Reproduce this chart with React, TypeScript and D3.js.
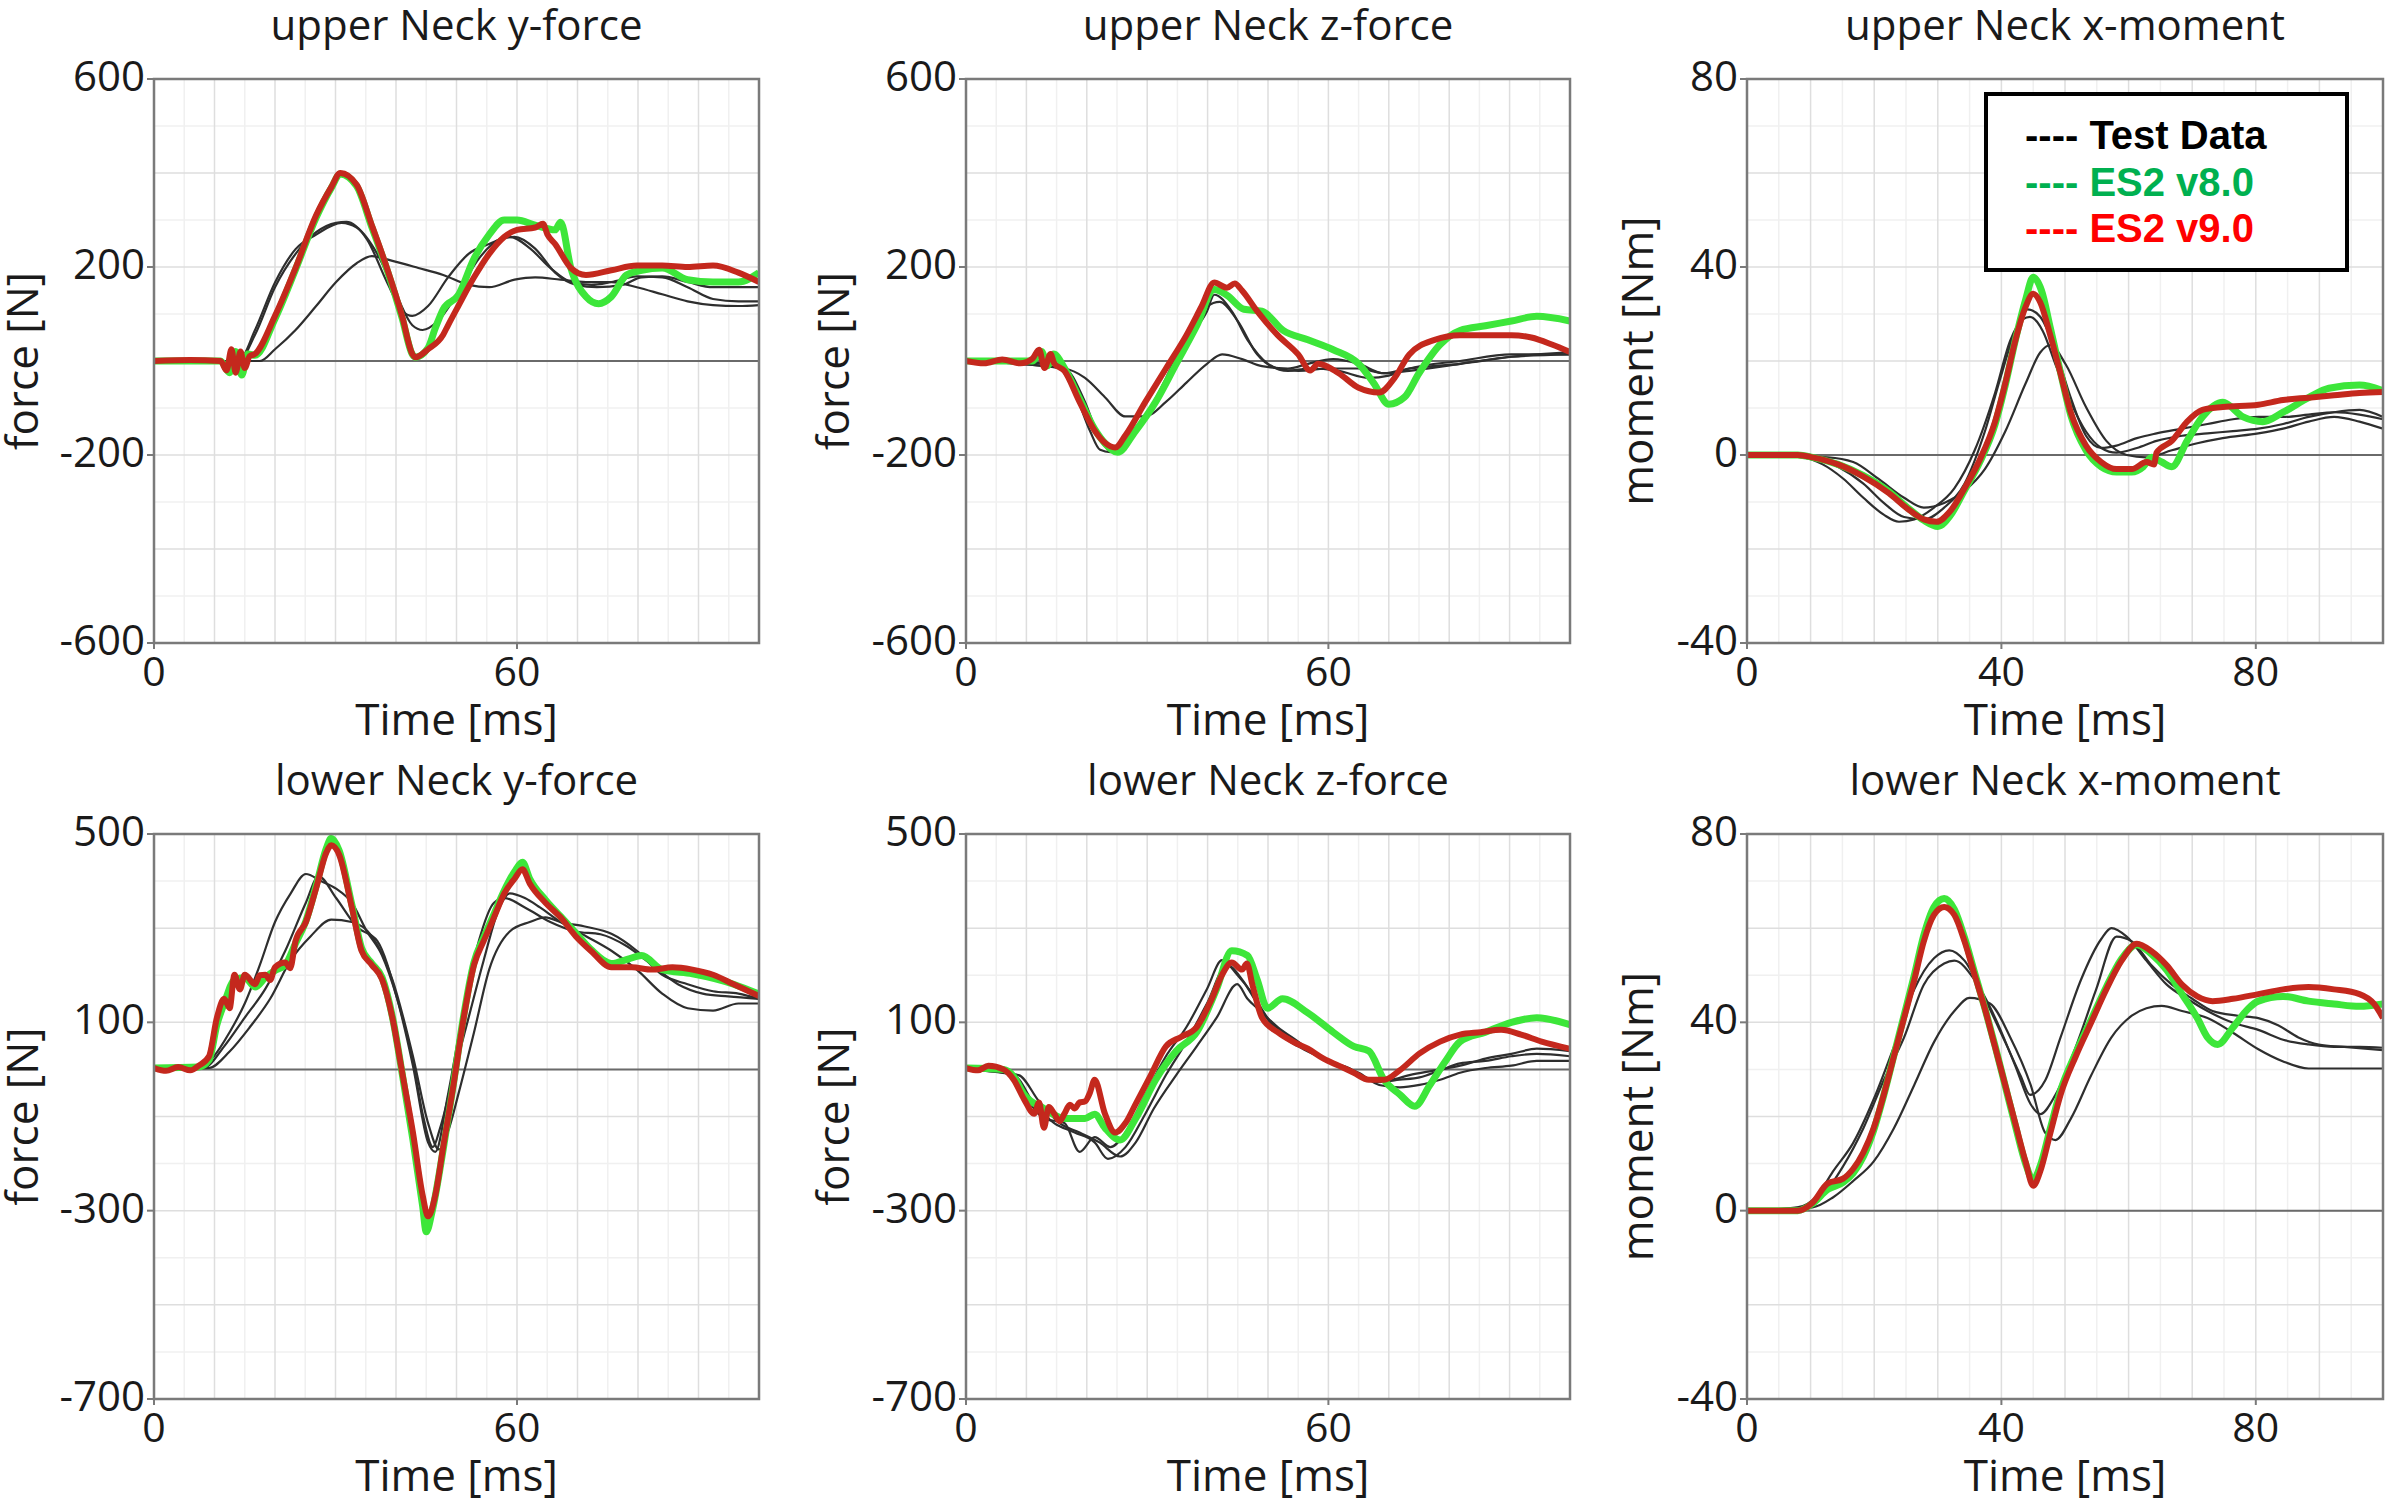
import React from "react";
import * as d3 from "d3";

type P = [number, number];

// ---------- tick labels ----------
const TIME_TICKS_FORCE = [0, 60];
const TIME_TICKS_MOMENT = [0, 40, 80];
const UPPER_FORCE_TICKS = [-600, -200, 200, 600];
const LOWER_FORCE_TICKS = [-700, -300, 100, 500];
const MOMENT_TICKS = [-40, 0, 40, 80];

const TITLES = [
  "upper Neck y-force", "upper Neck z-force", "upper Neck x-moment",
  "lower Neck y-force", "lower Neck z-force", "lower Neck x-moment",
];
const Y_LABELS = ["force [N]", "force [N]", "moment [Nm]", "force [N]", "force [N]", "moment [Nm]"];
const LEGEND_LABELS = ["Test Data", "ES2 v8.0", "ES2 v9.0"];

// ---------- upper Neck y-force ----------
const uyTest1: P[] = [[0,0],[14,0],[16.7,56],[20,157],[23.4,228],[26.8,274],[30.1,294],[31.8,296],[35.2,259],[38.5,168],[41,107],[42.7,96],[45.3,117],[48.6,178],[52,228],[55.4,249],[58.8,264],[62.2,239],[65.5,198],[68.9,168],[72.3,162],[75.6,168],[79.8,180],[84,178],[88.2,157],[92.4,132],[96.6,127],[100,127]];
const uyTest2: P[] = [[0,0],[14,0],[16.7,66],[20,167],[23.4,238],[26.8,269],[31,294],[33.5,284],[36.9,228],[40.2,137],[42.7,76],[44.4,66],[47,86],[50.3,147],[53.7,218],[57.2,259],[59.6,264],[63,239],[66.3,188],[69.8,162],[73.2,157],[77.4,162],[80.6,178],[84,180],[88.2,168],[92.4,157],[96.6,157],[100,157]];
const uyTest3: P[] = [[0,0],[17.5,0],[20,25],[23.4,66],[26.8,117],[30.1,168],[33.5,208],[36,223],[39.4,213],[43.7,198],[47.8,183],[52,162],[55.4,157],[59.6,173],[63,178],[67.2,173],[71.4,168],[75.6,168],[79.8,157],[84,142],[88.2,127],[92.4,119],[96.6,117],[100,119]];
const uyV8: P[] = [[0,0],[11,0],[12.5,-25],[13.5,20],[14.5,-30],[15.5,15],[16.7,12],[20,90],[23.4,195],[26.8,305],[29.3,368],[30.8,398],[33.5,372],[36,285],[38.5,195],[41,92],[42.7,14],[43.2,8],[45.3,28],[46.5,70],[47.8,110],[50.3,140],[52.9,218],[55.4,269],[57.9,300],[60,300],[63,289],[66.3,279],[67.2,295],[68.9,198],[71.4,137],[73.5,122],[75.6,137],[78.1,183],[80.6,193],[84,198],[88.2,173],[92.4,168],[96.6,168],[100,188]];
const uyV9: P[] = [[0,0],[6,2],[11,0],[12,-20],[12.8,25],[13.5,-25],[14.3,20],[15,-15],[15.8,10],[16.7,15],[20,96],[23.4,198],[26.8,310],[29.3,370],[30.8,400],[33.5,375],[36,289],[38.5,198],[41,96],[42.7,15],[43.2,8],[45.3,25],[47.8,56],[48.6,76],[50.3,117],[52.9,178],[55.4,228],[57.9,264],[60,279],[63,284],[64.3,292],[65,270],[66.3,249],[68.9,198],[71.4,183],[75.6,193],[79.8,203],[84,203],[88.2,200],[92.4,203],[96.6,188],[100,168]];

// ---------- upper Neck z-force ----------
const uzTest1: P[] = [[0,0],[14.6,-6],[18,-67],[20.5,-148],[22.2,-189],[23.9,-194],[26.4,-179],[29.7,-118],[33.1,-37],[36.5,55],[39.9,116],[42,126],[45,85],[48.2,14],[51.6,-16],[55,-21],[60,-16],[65,-16],[69.2,-26],[73.4,-16],[81.8,-6],[90.3,9],[100,19]];
const uzTest2: P[] = [[0,0],[16.3,-16],[19.7,-87],[22.2,-168],[24.7,-194],[27.2,-158],[30.6,-97],[34,-26],[37.3,55],[39.9,106],[41.1,141],[44,106],[46.6,45],[50,-6],[53.3,-21],[56.7,-16],[61.7,-21],[66.7,-36],[70,-31],[73.4,-16],[81.8,0],[90.3,14],[100,14]];
const uzTest3: P[] = [[0,0],[16.3,-16],[19.7,-36],[23,-77],[26.4,-118],[29.7,-118],[33.1,-87],[36.5,-46],[39.9,-6],[42.4,14],[45.7,4],[49,-11],[53.3,-16],[56.6,-6],[60.8,4],[65,-6],[69.2,-26],[73.4,-21],[81.8,-6],[90.3,9],[100,14]];
const uzV8: P[] = [[0,0],[11,0],[12.5,20],[13.5,-10],[14.5,15],[16.3,-15],[18.8,-80],[21.3,-145],[23,-175],[25.1,-194],[28,-150],[31.4,-87],[34.8,-6],[38.2,75],[41.1,152],[43.2,140],[46,110],[49,106],[52.5,65],[56.6,45],[60.8,24],[65,-6],[67.5,-47],[70,-92],[72.6,-77],[75,-26],[78.5,35],[81.8,65],[86,75],[90.3,85],[94.5,95],[100,85]];
const uzV9: P[] = [[0,0],[3,-5],[6,3],[9,-5],[11,5],[12.1,24],[13,-15],[14,15],[14.6,-5],[16.3,-21],[18.8,-87],[21.3,-148],[23,-174],[24.7,-184],[26.4,-158],[29.7,-87],[33.1,-16],[36.5,55],[39,116],[41.1,167],[43.2,156],[44.5,165],[45.7,150],[48.2,106],[51.6,55],[55,14],[57,-20],[58.3,-6],[61.7,-26],[65,-57],[68.4,-67],[70.9,-37],[73.4,14],[77.6,45],[81.8,55],[86,55],[90.3,55],[93.6,50],[97,35],[100,19]];

// ---------- upper Neck x-moment ----------
const uxTest1: P[] = [[0,0],[8.8,-0.5],[11.9,-2],[15.1,-5],[18.3,-9.1],[21.5,-12.7],[23.9,-14.2],[26.3,-13.7],[29.4,-11.2],[32.6,-7.1],[35.8,1],[39,13.2],[41.4,24.4],[43.4,28.9],[44.5,29.4],[46.5,26.4],[48.5,19.3],[50.9,11.2],[53.3,5],[55.7,1.5],[58.1,0.5],[61.3,1.5],[64.4,3],[68.4,4.1],[72.4,4.6],[76.4,5.1],[80.4,5.6],[84.3,6.6],[88.3,8.1],[92.3,9.1],[96.3,9.6],[100,8.1]];
const uxTest2: P[] = [[0,0],[10.3,-0.5],[14.3,-2.5],[18.3,-6.1],[21.5,-10.2],[24.7,-13.2],[27.8,-13.7],[31,-11.2],[34.2,-6.1],[37.4,5],[39.8,16.2],[42.2,26.4],[44.1,31],[46.1,29.4],[48.5,22.3],[50.9,12.2],[53.3,4.1],[55.7,1.5],[58.1,2],[61.3,3.6],[64.4,4.6],[68.4,5.6],[72.4,6.6],[76.4,7.6],[80.4,8.1],[84.3,8.1],[88.3,8.6],[92.3,9.1],[96.3,8.6],[100,7.6]];
const uxTest3: P[] = [[0,0],[12.7,-0.5],[16.7,-1.5],[20.7,-5.1],[24.7,-9.1],[27.8,-11.2],[31,-10.2],[34.2,-7.6],[37.4,-3],[40.6,5],[43.8,15.2],[46.1,21.8],[47.7,23.4],[50.1,19.3],[53.3,10.2],[56.5,3],[59.7,0],[62.8,-0.5],[66.8,1],[70.8,2.5],[74.8,3.6],[80.4,4.6],[84.3,5.6],[88.3,7.1],[92.3,8.1],[96.3,7.1],[100,5.6]];
const uxV8: P[] = [[0,0],[8,0],[10.3,-0.5],[14.3,-2],[18.3,-4.4],[22.3,-7.8],[25.5,-11.5],[27.8,-13.9],[30,-15.2],[32,-12.8],[34.2,-7.5],[36.6,-1.5],[39,6.5],[40.6,14.8],[42.2,24.5],[43.8,33],[45,37.8],[46.3,35],[47.7,27],[49.3,17.5],[50.9,8.5],[53.3,1],[55.7,-2.5],[58.1,-3.6],[60.5,-3.6],[62.3,-2.5],[63.6,-0.5],[65.2,-1.5],[66.8,-2.5],[69.2,3],[71.6,8.1],[74.8,11.2],[78,8.1],[81.1,7.1],[84.3,9.1],[88.3,12.2],[91.5,14.2],[96.3,14.9],[100,13.7]];
const uxV9: P[] = [[0,0],[8,0],[10.3,-0.5],[14.3,-2],[18.3,-4.6],[22.3,-8.1],[25.5,-11.7],[27.8,-13.7],[29.8,-14.2],[31.8,-12.2],[34.2,-7.1],[36.6,-1],[39,7.1],[40.6,15.2],[42.2,24.4],[43.8,31.5],[45,34.3],[46.1,32.5],[47.7,25.4],[49.3,17.3],[50.9,9.1],[53.3,2],[55.7,-1.5],[58.1,-3],[60.5,-3],[62.8,-1.5],[64,-2],[64.4,0.5],[66.8,3],[69.2,7.1],[71.6,9.6],[74.8,10.2],[80.4,10.7],[84.3,11.7],[88.3,12.2],[92.3,12.7],[96.3,13.2],[100,13.4]];

// ---------- lower Neck y-force ----------
const lyTest1: P[] = [[0,0],[7.4,3],[9.9,28],[12.5,79],[15,140],[17.5,222],[20,313],[22.6,374],[25.1,415],[27.6,400],[30.1,384],[32.7,354],[35.2,293],[37.7,242],[40.2,150],[42.8,18],[44.4,-94],[46.1,-165],[47.3,-124],[49.5,-12],[52,110],[54.5,232],[57.1,344],[58.8,374],[61.3,364],[63.8,344],[67.2,313],[71.4,283],[75.6,252],[79.8,212],[84,161],[88.2,130],[92.4,125],[96.6,140],[100,140]];
const lyTest2: P[] = [[0,0],[8.2,3],[11.6,49],[15,110],[18.4,171],[21.7,252],[25.1,354],[27.2,410],[30.1,364],[33.5,303],[36.9,273],[40.2,150],[42.8,8],[45.3,-155],[46.5,-175],[48.6,-53],[51.2,130],[53.7,273],[56.2,354],[57.9,364],[61.3,344],[65.5,313],[69.7,293],[73.8,287],[78.1,262],[82.3,222],[86.6,181],[90.7,161],[94.9,155],[100,150]];
const lyTest3: P[] = [[0,0],[9.1,3],[12.5,38],[15.8,89],[19.2,150],[22.6,232],[25.9,283],[29.3,318],[32.7,313],[36,283],[39.4,191],[42.8,28],[45.3,-114],[47.1,-170],[48.8,-124],[50.3,-53],[52.9,79],[55.4,212],[58.8,293],[62.1,313],[64.7,323],[67.2,313],[71.4,303],[75.6,288],[79.8,252],[84,201],[88.2,181],[92.4,166],[96.6,161],[100,150]];
const lyV8: P[] = [[0,3],[7.4,5],[9.1,20],[10.4,95],[11.6,140],[13.3,190],[15,195],[16.7,175],[18.4,195],[20,210],[21.7,222],[23.4,268],[25.1,315],[26.8,390],[28.5,470],[29.3,491],[30.6,465],[32.7,350],[34.3,258],[36,225],[37.7,195],[39.4,112],[41.1,-15],[42.8,-150],[44.4,-290],[45,-345],[46,-300],[47.8,-170],[49.5,-30],[51.2,115],[52.9,228],[54.5,280],[56.2,330],[57.9,380],[59.6,420],[60.9,440],[62.1,405],[64.7,360],[67.2,325],[69.7,290],[72.2,255],[75.6,225],[78.5,235],[80.6,242],[84,212],[89,203],[95.8,181],[100,160]];
const lyV9: P[] = [[0,3],[2,-3],[4,5],[6,-2],[7.4,8],[9.1,28],[10.4,110],[11.6,150],[12.5,130],[13.3,201],[14.2,170],[15,201],[16.7,181],[17.5,200],[18.4,201],[19.2,190],[20,217],[21.7,227],[22.5,215],[23.4,273],[25.1,313],[26.8,385],[28.5,461],[29.3,476],[30.6,456],[32.7,344],[34.3,252],[36,222],[37.7,191],[39.4,110],[41.1,-12],[42.8,-134],[44.4,-267],[45.3,-312],[46.5,-267],[47.8,-165],[49.5,-33],[51.2,110],[52.9,222],[54.5,273],[56.2,323],[57.9,374],[59.6,405],[60.9,425],[62.1,395],[64.7,354],[67.2,323],[69.7,283],[72.2,252],[75.6,217],[79,217],[82.3,212],[85.7,217],[89,212],[92.4,201],[95.8,181],[100,156]];

// ---------- lower Neck z-force ----------
const lzTest1: P[] = [[0,0],[7,-2],[9.6,-53],[12.9,-104],[16.3,-114],[18.8,-175],[21.3,-144],[23.9,-165],[26.4,-134],[29.7,-53],[33.1,28],[36.5,90],[39.9,171],[42.4,232],[44.9,201],[47.4,161],[49.9,110],[53.3,69],[56.6,44],[60,18],[63.4,3],[66.7,-22],[70.1,-22],[73.4,-12],[77.6,-2],[81.8,8],[86,23],[90.3,33],[94.5,44],[100,39]];
const lzTest2: P[] = [[0,0],[7.9,-12],[11.3,-73],[14.6,-114],[18,-134],[21.3,-155],[23.5,-190],[26.4,-165],[29.7,-94],[33.1,-12],[36.5,59],[39.9,140],[43.2,222],[45.7,191],[48.2,140],[51.6,79],[55,49],[58.3,28],[61.7,8],[65,-12],[68.4,-27],[71.8,-22],[75.1,-17],[78.5,-2],[81.8,13],[86,18],[90.3,28],[94.5,33],[100,28]];
const lzTest3: P[] = [[0,0],[8.7,-12],[12.1,-68],[15.5,-114],[18.8,-134],[22.1,-155],[25.5,-185],[28.1,-155],[31.1,-83],[34.8,-12],[38.2,49],[41.5,110],[44.9,181],[46.6,150],[48.2,130],[51.6,90],[55,59],[58.3,28],[61.7,8],[65,-7],[68.4,-33],[71.8,-38],[75.1,-33],[78.5,-22],[81.8,-7],[86,3],[90.3,8],[94.5,18],[100,18]];
const lzV8: P[] = [[0,3],[6.2,0],[7.9,-15],[9.6,-53],[12.9,-83],[16.3,-104],[19.7,-104],[21.3,-95],[23,-124],[25.5,-150],[28.1,-104],[31.4,-22],[34.8,39],[38.2,79],[41.5,171],[44,252],[46.6,242],[48.2,191],[49.9,130],[52.4,150],[56.6,120],[60.8,79],[64.2,49],[66.7,39],[69.2,-22],[71.8,-53],[74.3,-78],[76.8,-33],[79.4,18],[81.8,59],[86,79],[90.3,100],[94.5,110],[100,95]];
const lzV9: P[] = [[0,3],[2,-2],[3.7,8],[6.2,0],[7.9,-22],[9.6,-63],[11.3,-94],[12.1,-70],[12.9,-124],[13.7,-80],[14.6,-94],[15.5,-110],[16.3,-94],[17.2,-75],[18,-83],[18.8,-70],[19.7,-68],[20.5,-50],[21.3,-22],[23,-94],[24.7,-134],[26.4,-114],[28.1,-73],[30.6,-12],[33.1,49],[35.6,69],[38.2,90],[40.7,150],[42.4,201],[44,227],[45.7,212],[46.5,225],[47.4,181],[49,110],[51.6,79],[54.1,59],[56.6,44],[59.2,23],[61.7,8],[64.2,-7],[66.7,-22],[69.2,-22],[71.8,-2],[75.1,34],[78.5,59],[81.8,74],[85.2,79],[88.6,84],[91.9,74],[95.3,59],[100,44]];

// ---------- lower Neck x-moment ----------
const lxTest1: P[] = [[0,0],[7.9,0.7],[11.1,3.3],[13.5,8.3],[16.7,14.4],[19.9,23.6],[23.1,34.8],[26.3,47],[29.4,53.6],[31.8,55.3],[34.2,53.1],[37.4,45],[40.6,35.8],[43,28.7],[44.5,24.6],[46.9,27.7],[49.3,36.8],[52.5,49],[55.7,57.7],[57.3,60],[59.7,58.2],[62.8,53.1],[66,48],[69.2,45],[72.4,42.4],[76.4,39.9],[80.4,38.4],[84.3,36.3],[88.3,35.3],[92.3,34.8],[96.3,34.8],[100,34.6]];
const lxTest2: P[] = [[0,0],[8.8,0.7],[11.9,3.3],[15.1,9.4],[18.3,17.5],[21.5,27.7],[24.7,36.8],[27.8,48],[31,52.5],[32.6,53.1],[35.8,49],[39,41],[42.2,30.7],[44.6,22.6],[46.1,20.5],[48.5,24.6],[51.7,34.8],[54.9,47],[58.1,58.2],[60.5,57.2],[63.6,52.1],[66.8,48],[70,45],[73.2,42.4],[77.2,41.4],[80.4,40.9],[83.5,39.4],[86.7,36.8],[89.9,35.3],[93.9,34.8],[100,34.1]];
const lxTest3: P[] = [[0,0],[10.3,0.7],[13.5,2.8],[16.7,6.3],[19.9,10.4],[23.1,17.5],[26.3,26.7],[29.4,35.8],[32.6,42.4],[35,45.2],[38.2,44],[41.4,36.8],[44.6,26.7],[46.9,16.5],[48.5,15],[50.9,19.5],[54.1,28.7],[57.3,36.8],[60.5,41.4],[62.8,43],[65.2,43.5],[68.4,42.4],[72.4,40.9],[76.4,37.8],[80.4,34.3],[84.3,31.7],[88.3,30.2],[100,30.2]];
const lxV8: P[] = [[0,0],[8,0],[10.3,1.5],[12.7,4.5],[15.1,6],[16.7,8],[18.3,11.5],[19.9,17],[21.5,24.5],[23.1,33],[24.7,41.5],[26.3,50],[27.8,58.5],[29.4,64.5],[31,66.3],[32.6,64],[34.2,58],[35.8,50.5],[37.4,43],[39,35],[40.6,26.5],[42.2,18],[43.8,10],[45,6.5],[46.1,9.5],[47.7,17.5],[49.3,25.5],[51.7,33.5],[54.1,40.5],[56.5,47.5],[58.9,53.5],[61.3,56.5],[63.6,54.5],[66,51.1],[68.4,46],[70.8,40.9],[72.4,36.8],[74,35.3],[76.4,38.9],[78.8,42.9],[80.4,44.5],[84.3,45.5],[88.3,44.5],[92.3,43.9],[96.3,43.4],[100,43.9]];
const lxV9: P[] = [[0,0],[8,0],[10.3,1.7],[12.7,5.8],[15.1,6.8],[16.7,8.9],[18.3,12.4],[19.9,17.5],[21.5,24.6],[23.1,32.8],[24.7,40.9],[26.3,49],[27.8,57.2],[29.4,62.8],[31,64.5],[32.6,62.8],[34.2,57.2],[35.8,50],[37.4,42.9],[39,34.8],[40.6,26.7],[42.2,18.5],[43.8,10.4],[45,5.3],[46.1,8.3],[47.7,16.5],[49.3,24.6],[51.7,32.8],[54.1,39.9],[56.5,47],[58.9,53.1],[61.3,56.7],[63.6,55.1],[66,52.1],[68.4,48],[70.8,45.5],[73.2,44.5],[76.4,45],[80.4,46],[84.3,47],[88.3,47.5],[92.3,47],[96.3,46],[98.6,43.9],[100,40.9]];

// ---------- layout & style ----------
const W = 2393, H = 1501;
const COL_X = [154, 966, 1747];
const COL_W = [605, 604, 636];
const ROW_Y = [79, 834];
const ROW_H = [564, 565];
const Y_LABEL_OFFSET = [116, 117, 94];
const FONT = "'Open Sans', 'Noto Sans', sans-serif";
const TEST_COLOR = "#2e2e2e";
const V8_COLOR = "#3de63a";
const V9_COLOR = "#c4281d";

const panels = [
  { yDomain: [-600, 600], yTicks: UPPER_FORCE_TICKS, xTicks: TIME_TICKS_FORCE, major: 200, minor: 100, tests: [uyTest1, uyTest2, uyTest3], v8: uyV8, v9: uyV9 },
  { yDomain: [-600, 600], yTicks: UPPER_FORCE_TICKS, xTicks: TIME_TICKS_FORCE, major: 200, minor: 100, tests: [uzTest1, uzTest2, uzTest3], v8: uzV8, v9: uzV9 },
  { yDomain: [-40, 80], yTicks: MOMENT_TICKS, xTicks: TIME_TICKS_MOMENT, major: 20, minor: 10, tests: [uxTest1, uxTest2, uxTest3], v8: uxV8, v9: uxV9 },
  { yDomain: [-700, 500], yTicks: LOWER_FORCE_TICKS, xTicks: TIME_TICKS_FORCE, major: 200, minor: 100, tests: [lyTest1, lyTest2, lyTest3], v8: lyV8, v9: lyV9 },
  { yDomain: [-700, 500], yTicks: LOWER_FORCE_TICKS, xTicks: TIME_TICKS_FORCE, major: 200, minor: 100, tests: [lzTest1, lzTest2, lzTest3], v8: lzV8, v9: lzV9 },
  { yDomain: [-40, 80], yTicks: MOMENT_TICKS, xTicks: TIME_TICKS_MOMENT, major: 20, minor: 10, tests: [lxTest1, lxTest2, lxTest3], v8: lxV8, v9: lxV9 },
];

function Panel({ idx }: { idx: number }) {
  const p = panels[idx];
  const col = idx % 3, row = Math.floor(idx / 3);
  const left = COL_X[col], w = COL_W[col], top = ROW_Y[row], h = ROW_H[row];
  const x = d3.scaleLinear().domain([0, 100]).range([left, left + w]);
  const y = d3.scaleLinear().domain(p.yDomain).range([top + h, top]);
  const line = d3.line<P>().x(d => x(d[0])).y(d => y(d[1])).curve(d3.curveMonotoneX);
  const clipId = `clip${idx}`;
  const [y0, y1] = p.yDomain;
  const vMinor = d3.range(5, 100, 10);
  const vMajor = d3.range(10, 100, 10);
  const hMinor = d3.range(y0 + p.minor, y1, p.major);
  const hMajor = d3.range(y0 + p.major, y1, p.major);
  return (
    <g>
      <defs>
        <clipPath id={clipId}>
          <rect x={left} y={top} width={w} height={h} />
        </clipPath>
      </defs>
      <rect x={left} y={top} width={w} height={h} fill="#fff" />
      {vMinor.map(t => <line key={"vm" + t} x1={x(t)} x2={x(t)} y1={top} y2={top + h} stroke="#f0f0f0" strokeWidth={1.5} />)}
      {hMinor.map(v => <line key={"hm" + v} x1={left} x2={left + w} y1={y(v)} y2={y(v)} stroke="#f0f0f0" strokeWidth={1.5} />)}
      {vMajor.map(t => <line key={"vM" + t} x1={x(t)} x2={x(t)} y1={top} y2={top + h} stroke="#dedede" strokeWidth={1.5} />)}
      {hMajor.map(v => <line key={"hM" + v} x1={left} x2={left + w} y1={y(v)} y2={y(v)} stroke="#dedede" strokeWidth={1.5} />)}
      <line x1={left} x2={left + w} y1={y(0)} y2={y(0)} stroke="#6a6a6a" strokeWidth={2} />
      <g clipPath={`url(#${clipId})`}>
        {p.tests.map((s, i) => <path key={"t" + i} d={line(s) || ""} fill="none" stroke={TEST_COLOR} strokeWidth={2.2} />)}
        <path d={line(p.v8) || ""} fill="none" stroke={V8_COLOR} strokeWidth={7} strokeLinejoin="round" />
        <path d={line(p.v9) || ""} fill="none" stroke={V9_COLOR} strokeWidth={6} strokeLinejoin="round" />
      </g>
      <rect x={left} y={top} width={w} height={h} fill="none" stroke="#7a7a7a" strokeWidth={2.5} />
      {p.yTicks.map(v => (
        <g key={"yt" + v}>
          <line x1={left - 7} x2={left} y1={y(v)} y2={y(v)} stroke="#7a7a7a" strokeWidth={2} />
          <text x={left - 9} y={y(v) + 12} textAnchor="end" fontSize={42} fontFamily={FONT} fill="#1a1a1a">{v}</text>
        </g>
      ))}
      {p.xTicks.map(t => (
        <g key={"xt" + t}>
          <line x1={x(t)} x2={x(t)} y1={top + h} y2={top + h + 6} stroke="#7a7a7a" strokeWidth={2} />
          <text x={x(t)} y={top + h + 43} textAnchor="middle" fontSize={41} fontFamily={FONT} fill="#1a1a1a">{t}</text>
        </g>
      ))}
      <text x={left + w / 2} y={top + h + 92} textAnchor="middle" fontSize={44} fontFamily={FONT} fill="#1a1a1a">Time [ms]</text>
      <text transform={`translate(${left - Y_LABEL_OFFSET[col]},${top + h / 2}) rotate(-90)`} textAnchor="middle" fontSize={44} fontFamily={FONT} fill="#1a1a1a">{Y_LABELS[idx]}</text>
      <text x={left + w / 2} y={top - 39} textAnchor="middle" fontSize={42} fontFamily={FONT} fill="#1a1a1a">{TITLES[idx]}</text>
    </g>
  );
}

function Legend() {
  const colors = ["#000000", "#00b050", "#ff0000"];
  const baselines = [149, 196, 242];
  return (
    <g>
      <rect x={1986} y={94} width={361} height={176} fill="#fff" stroke="#000" strokeWidth={4} />
      {LEGEND_LABELS.map((l, i) => (
        <text key={l} x={2025} y={baselines[i]} fontSize={40} fontWeight="bold" fontFamily="'Liberation Sans', Arial, sans-serif" fill={colors[i]}>
          {"---- " + l}
        </text>
      ))}
    </g>
  );
}

export default function App() {
  return (
    <svg width={W} height={H} viewBox={`0 0 ${W} ${H}`} style={{ position: "absolute", left: 0, top: 0, display: "block", background: "#fff" }}>
      <rect width={W} height={H} fill="#fff" />
      {panels.map((_, i) => <Panel key={i} idx={i} />)}
      <Legend />
    </svg>
  );
}
